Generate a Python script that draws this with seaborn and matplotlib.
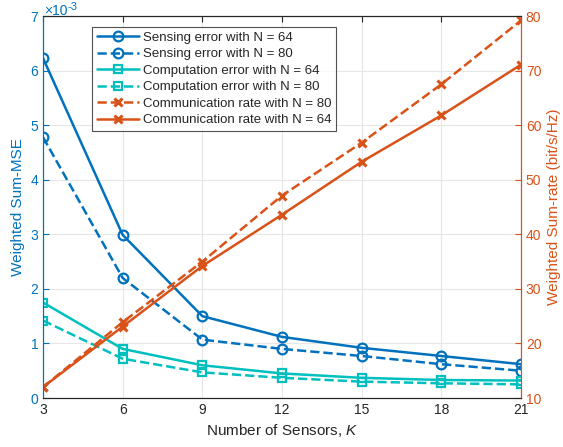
import numpy as np
import pandas as pd
import matplotlib
matplotlib.use('Agg')
import matplotlib.pyplot as plt
import seaborn as sns

# values
K = [3, 6, 9, 12, 15, 18, 21]
sens_64 = [6.23, 2.99, 1.50, 1.12, 0.92, 0.77, 0.62]
sens_80 = [4.78, 2.20, 1.07, 0.90, 0.77, 0.62, 0.50]
comp_64 = [1.75, 0.90, 0.60, 0.45, 0.37, 0.33, 0.32]
comp_80 = [1.42, 0.72, 0.47, 0.37, 0.30, 0.27, 0.25]
rate_80 = [12.0, 23.9, 35.0, 47.1, 56.8, 67.5, 79.2]
rate_64 = [12.0, 23.1, 34.2, 43.6, 53.3, 61.8, 71.1]

blue = '#0072BD'
cyan = '#00BFBF'
orange = '#D95319'

sns.set_style('white')
plt.rcParams['font.family'] = ['Liberation Sans', 'DejaVu Sans']
plt.rcParams['font.size'] = 10
plt.rcParams['mathtext.fontset'] = 'custom'
plt.rcParams['mathtext.rm'] = 'Liberation Sans'
plt.rcParams['mathtext.it'] = 'Liberation Sans:italic'

fig = plt.figure(figsize=(5.63, 4.47), dpi=100)
ax = fig.add_axes([0.0764, 0.1096, 0.849, 0.8544])
ax2 = ax.twinx()

# left axis: MSE
left = [
    (sens_64, blue, '-', 'o', 7, 'Sensing error with N = 64'),
    (sens_80, blue, '--', 'o', 7, 'Sensing error with N = 80'),
    (comp_64, cyan, '-', 's', 6, 'Computation error with N = 64'),
    (comp_80, cyan, '--', 's', 6, 'Computation error with N = 80'),
]
handles = []
for vals, c, ls, m, ms, lab in left:
    sns.lineplot(x=K, y=np.array(vals) * 1e-3, ax=ax, color=c, linestyle=ls,
                 marker=m, markersize=ms, markerfacecolor='none',
                 markeredgecolor=c, markeredgewidth=1.6, linewidth=1.8,
                 label=lab, legend=False)
    handles.append(ax.lines[-1])

# right axis: rate
right = [
    (rate_80, orange, '--', 'Communication rate with N = 80'),
    (rate_64, orange, '-', 'Communication rate with N = 64'),
]
for vals, c, ls, lab in right:
    sns.lineplot(x=K, y=vals, ax=ax2, color=c, linestyle=ls, marker='x',
                 markersize=6, markeredgecolor=c, markeredgewidth=2.2,
                 linewidth=1.8, label=lab, legend=False)
    handles.append(ax2.lines[-1])

ax.set_xlim(3, 21)
ax.set_ylim(0, 7e-3)
ax.set_xticks(K)
ax.set_yticks(np.arange(0, 8) * 1e-3)
ax.set_yticklabels([str(i) for i in range(8)])
# exponent label, drawn as two texts so it stays inside the figure
fig.text(44 / 563, 1 - 15 / 447, '\u00d710', color=blue, fontsize=10,
         ha='left', va='baseline')
fig.text(67 / 563, 1 - 10 / 447, '-3', color=blue, fontsize=8,
         ha='left', va='baseline')
ax2.set_ylim(10, 80)
ax2.set_yticks(range(10, 90, 10))

ax.grid(True, color='#e6e6e6', linewidth=0.8)
ax.set_axisbelow(True)

ax.set_xlabel('Number of Sensors, $\\it{K}$', color='#262626', fontsize=11)
ax.set_ylabel('Weighted Sum-MSE', color=blue, fontsize=11)
ax2.set_ylabel('Weighted Sum-rate (bit/s/Hz)', color=orange, fontsize=11)

ax.tick_params(axis='x', direction='in', colors='#262626', top=True, length=4)
ax.tick_params(axis='y', direction='in', colors=blue, length=4)
ax2.tick_params(axis='y', direction='in', colors=orange, length=4)
for a in (ax, ax2):
    a.spines['top'].set_color('#262626')
    a.spines['bottom'].set_color('#262626')
    a.spines['left'].set_color(blue)
    a.spines['right'].set_color(orange)
    for s in a.spines.values():
        s.set_linewidth(0.8)

leg = ax2.legend(handles=handles, loc='upper left', bbox_to_anchor=(0.1025, 0.971),
                 borderaxespad=0, fontsize=9.5, frameon=True, fancybox=False,
                 edgecolor='#262626', handlelength=3.2, borderpad=0.35,
                 labelspacing=0.32, handletextpad=0.3)
leg.get_frame().set_linewidth(0.8)

fig.savefig('out.png', dpi=100)
